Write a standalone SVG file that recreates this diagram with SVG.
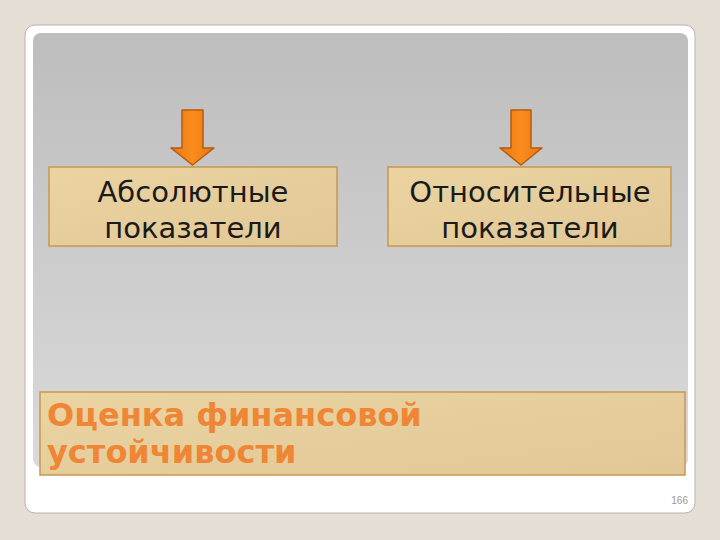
<svg xmlns="http://www.w3.org/2000/svg" width="720" height="540" viewBox="0 0 720 540">
<defs>
<linearGradient id="panel" x1="0" y1="0" x2="0" y2="1">
<stop offset="0" stop-color="#bdbdbd"/>
<stop offset="1" stop-color="#dadada"/>
</linearGradient>
<linearGradient id="papyrus" x1="0" y1="0" x2="1" y2="1">
<stop offset="0" stop-color="#ecd3a2"/>
<stop offset="0.5" stop-color="#e6cd9c"/>
<stop offset="1" stop-color="#e2c896"/>
</linearGradient>
<linearGradient id="arrowFill" x1="0" y1="0" x2="1" y2="0">
<stop offset="0" stop-color="#e8780e"/>
<stop offset="0.5" stop-color="#fb8c1e"/>
<stop offset="1" stop-color="#e8780e"/>
</linearGradient>
<style>
.box{fill:url(#papyrus);stroke:#c9974f;stroke-width:1.5}
.lbl{font-family:"DejaVu Sans","Noto Sans",sans-serif;font-size:29px;fill:#1a1a1a;text-anchor:middle}
.title{font-family:"DejaVu Sans","Noto Sans",sans-serif;font-size:32px;font-weight:bold;fill:#ee8636}
.arrow{fill:url(#arrowFill);stroke:#b55a10;stroke-width:1.5;stroke-linejoin:round}
</style>
</defs>
<rect x="0" y="0" width="720" height="540" fill="#e4ded5"/>
<rect x="25" y="25" width="670" height="488" rx="10" fill="#ffffff" stroke="#b8b4ae" stroke-width="1"/>
<rect x="33" y="33" width="655" height="434" rx="8" fill="url(#panel)"/>
<g id="connectors">
<path class="arrow" d="M182,110 L203,110 L203,148 L214,148 L192.5,165 L171,148 L182,148 Z"/>
<path class="arrow" d="M511,110 L531,110 L531,148 L542,148 L521,165 L500,148 L511,148 Z"/>
</g>
<g id="node-absolute">
<rect class="box" x="49" y="167" width="288" height="79"/>
<text class="lbl" x="193" y="202">Абсолютные</text>
<text class="lbl" x="193" y="238">показатели</text>
</g>
<g id="node-relative">
<rect class="box" x="388" y="167" width="283" height="79"/>
<text class="lbl" x="530" y="202">Относительные</text>
<text class="lbl" x="530" y="238">показатели</text>
</g>
<g id="node-title">
<rect class="box" x="40" y="392" width="645" height="83"/>
<text class="title" x="47" y="426">Оценка финансовой</text>
<text class="title" x="47" y="463">устойчивости</text>
</g>
<text x="688" y="504" font-family="'Liberation Sans',sans-serif" font-size="10" fill="#9a9a9a" text-anchor="end">166</text>
</svg>
